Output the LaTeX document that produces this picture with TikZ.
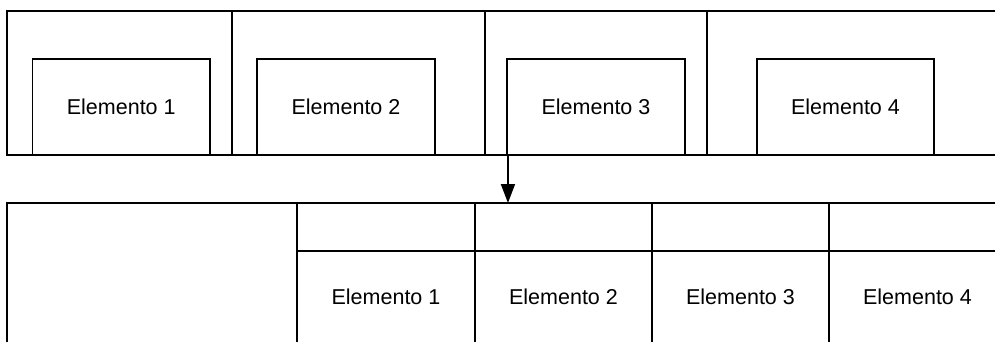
\documentclass[tikz,border=0pt]{standalone}
\usepackage{fontspec}
\setmainfont{Liberation Sans}
\usetikzlibrary{arrows.meta}
\begin{document}
\begin{tikzpicture}[x=1pt,y=-1pt,
  cellbox/.style={draw, line width=1.8pt, anchor=north west, inner sep=0pt, outer sep=0pt},
  elbox/.style={draw, line width=1.8pt, anchor=south, inner sep=0pt, outer sep=0pt, minimum width=177.5pt, minimum height=96pt},
  lbl/.style={font=\fontsize{21.5}{26}\selectfont},
  arr/.style={line width=1.8pt, -{Triangle[length=19pt,width=14pt]}}
]
\path[use as bounding box, clip] (0,0) rectangle (995,342);
% top row
\node[cellbox, minimum width=225pt, minimum height=144pt] (ta) at (7,11) {};
\node[cellbox, minimum width=253pt, minimum height=144pt] (tb) at (232,11) {};
\node[cellbox, minimum width=222pt, minimum height=144pt] (tc) at (485,11) {};
\node[cellbox, minimum width=300pt, minimum height=144pt] (td) at (707,11) {};
\node[elbox, lbl] (in1) at (121.25,155) {Elemento 1};
\node[elbox, lbl] (in2) at (346,155) {Elemento 2};
\node[elbox, lbl] (in3) at (596,155) {Elemento 3};
\node[elbox, lbl] (in4) at (845.5,155) {Elemento 4};
% bottom row
\node[cellbox, minimum width=290pt, minimum height=141pt] (big) at (7,203) {};
\node[cellbox, minimum width=178pt, minimum height=48pt] (h1) at (297,203) {};
\node[cellbox, minimum width=177pt, minimum height=48pt] (h2) at (475,203) {};
\node[cellbox, minimum width=177pt, minimum height=48pt] (h3) at (652,203) {};
\node[cellbox, minimum width=190pt, minimum height=48pt] (h4) at (829,203) {};
\node[cellbox, lbl, minimum width=178pt, minimum height=92pt] (e1) at (297,251) {Elemento 1};
\node[cellbox, lbl, minimum width=177pt, minimum height=92pt] (e2) at (475,251) {Elemento 2};
\node[cellbox, lbl, minimum width=177pt, minimum height=92pt] (e3) at (652,251) {Elemento 3};
\node[cellbox, lbl, minimum width=177pt, minimum height=92pt] (e4) at (829,251) {Elemento 4};
% arrow
\draw[arr] ([xshift=0.7pt]in3.south west) -- ([xshift=0.7pt]in3.south west |- h2.north);
\end{tikzpicture}
\end{document}
